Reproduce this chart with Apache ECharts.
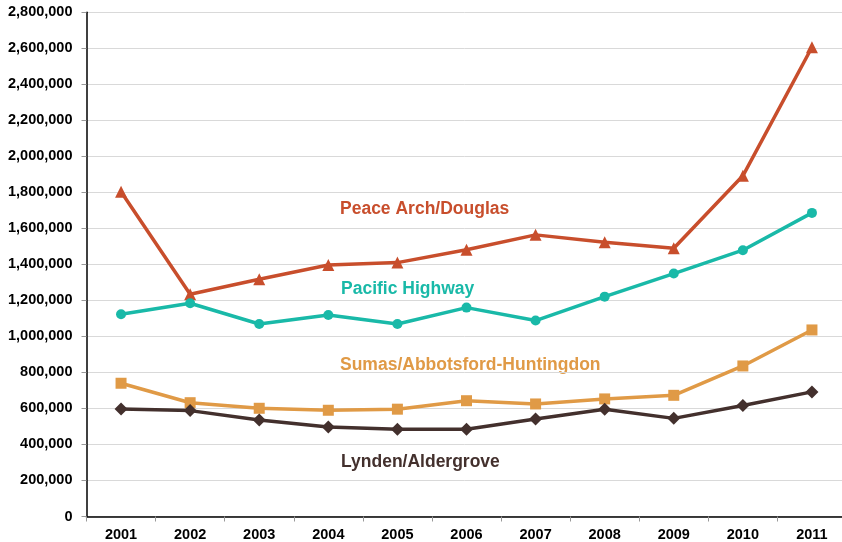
<!DOCTYPE html>
<html>
<head>
<meta charset="utf-8">
<script src="https://cdn.jsdelivr.net/npm/echarts@6/dist/echarts.min.js"></script>
<style>html,body{margin:0;padding:0;background:#fff;}#c{width:842px;height:542px;}</style>
</head>
<body>
<div id="c"></div>
<script>
const years = ['2001','2002','2003','2004','2005','2006','2007','2008','2009','2010','2011'];
const peaceArch = [1803000,1234000,1318000,1397000,1410000,1481000,1564000,1523000,1490000,1892000,2606000];
const pacificHwy = [1123000,1184000,1069000,1119000,1069000,1160000,1088000,1221000,1349000,1479000,1686000];
const sumas = [740000,632000,601000,590000,596000,643000,625000,653000,673000,836000,1036000];
const lynden = [597000,588000,536000,497000,484000,484000,542000,596000,545000,616000,692000];
const yTicks = [0,200000,400000,600000,800000,1000000,1200000,1400000,1600000,1800000,2000000,2200000,2400000,2600000,2800000];

const chart = echarts.init(document.getElementById('c'), null, {renderer:'canvas'});
const font = 'Liberation Sans, Arial, sans-serif';
function mkSeries(name, data, color, symbol, size){
  return {name, type:'line', data, symbol, symbolSize:size, showSymbol:true,
    lineStyle:{color, width:3.5}, itemStyle:{color}, animation:false, z:3};
}
chart.setOption({
  animation:false,
  grid:{left:86.5, right:-4.5, top:12.3, bottom:25.5, outerBoundsMode:'none', containLabel:false},
  xAxis:{type:'category', data:years, boundaryGap:true,
    axisLine:{lineStyle:{color:'#000', width:1.5}},
    axisTick:{show:true, length:5, lineStyle:{color:'#999'}},
    axisLabel:{color:'#000', fontWeight:'bold', fontSize:14.5, fontFamily:font, margin:11},
    splitLine:{show:false}},
  yAxis:{type:'value', min:yTicks[0], max:yTicks[yTicks.length-1], interval:200000,
    axisLine:{show:true, lineStyle:{color:'#000', width:1.5}},
    axisTick:{show:true, length:5, lineStyle:{color:'#999'}},
    axisLabel:{color:'#000', fontWeight:'bold', fontSize:14.5, fontFamily:font, margin:14,
      formatter:v=>v.toLocaleString('en-US')},
    splitLine:{show:true, lineStyle:{color:'#d9d9d9', width:1}}},
  series:[
    mkSeries('Peace Arch/Douglas', peaceArch, '#C84E2C', 'triangle', 12),
    mkSeries('Pacific Highway', pacificHwy, '#19B9A8', 'circle', 10),
    mkSeries('Sumas/Abbotsford-Huntingdon', sumas, '#E09A46', 'rect', 11),
    mkSeries('Lynden/Aldergrove', lynden, '#43302D', 'diamond', 13)
  ],
  graphic:[
    {type:'text', x:340, y:209, style:{text:'Peace Arch/Douglas', fill:'#C84E2C', font:'bold 17.5px '+font, verticalAlign:'middle'}},
    {type:'text', x:341, y:289, style:{text:'Pacific Highway', fill:'#19B9A8', font:'bold 17.5px '+font, verticalAlign:'middle'}},
    {type:'text', x:340, y:365, style:{text:'Sumas/Abbotsford-Huntingdon', fill:'#E09A46', font:'bold 17.5px '+font, verticalAlign:'middle'}},
    {type:'text', x:341, y:462, style:{text:'Lynden/Aldergrove', fill:'#43302D', font:'bold 17.5px '+font, verticalAlign:'middle'}}
  ]
});
</script>
</body>
</html>
